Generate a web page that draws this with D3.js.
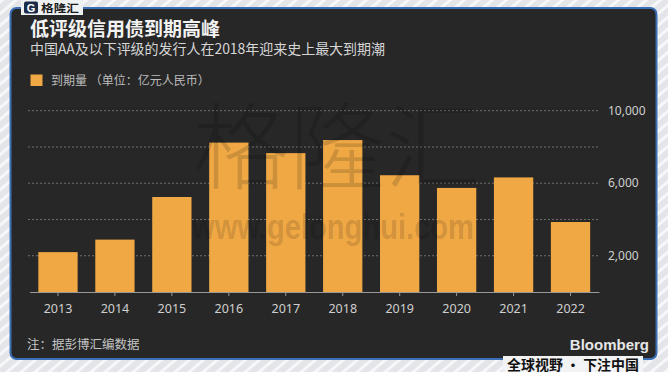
<!DOCTYPE html>
<html>
<head>
<meta charset="utf-8">
<script src="https://cdn.jsdelivr.net/npm/d3@7"></script>
<style>
  body { margin: 0; background: #fff; }
  svg { display: block; font-family: "Noto Sans", "Noto Sans CJK SC", sans-serif; }
</style>
</head>
<body>
<script>
var years = ["2013", "2014", "2015", "2016", "2017", "2018", "2019", "2020", "2021", "2022"];
var maturity = [2200, 2890, 5240, 8240, 7660, 8380, 6440, 5740, 6320, 3860];
var gridTicks = [2000, 4000, 6000, 8000, 10000];
var labelTicks = [2000, 6000, 10000];

var width = 668,
    height = 372;

var svg = d3.select("body").append("svg")
    .attr("width", width)
    .attr("height", height);

// striped backdrop outside the card
var defs = svg.append("defs");
var stripes = defs.append("pattern")
    .attr("id", "stripes")
    .attr("width", 9)
    .attr("height", 9)
    .attr("patternUnits", "userSpaceOnUse")
    .attr("patternTransform", "rotate(-40)");
stripes.append("rect").attr("width", 9).attr("height", 9).attr("fill", "#e3e5e9");
stripes.append("rect").attr("width", 9).attr("height", 3).attr("fill", "#f6f7f9");

svg.append("rect")
    .attr("width", width)
    .attr("height", height)
    .attr("fill", "url(#stripes)");

svg.append("rect")
    .attr("x", 10.5)
    .attr("y", 8)
    .attr("width", 646)
    .attr("height", 351)
    .attr("rx", 6)
    .attr("fill", "#272727")
    .attr("stroke", "#3a70b6")
    .attr("stroke-width", 2);

var x = d3.scaleBand()
    .domain(years)
    .range([29.5, 599])
    .paddingInner(0.31)
    .paddingOuter(0.155);

var y = d3.scaleLinear()
    .domain([0, 10000])
    .range([292, 110.7]);

// grid
svg.append("g")
    .selectAll("line")
    .data(gridTicks)
    .enter().append("line")
      .attr("x1", 28)
      .attr("x2", 600)
      .attr("y1", function(d) { return y(d); })
      .attr("y2", function(d) { return y(d); })
      .attr("stroke", "#707070")
      .attr("stroke-width", 1)
      .attr("stroke-dasharray", "2,2");

svg.append("g")
    .selectAll("text")
    .data(labelTicks)
    .enter().append("text")
      .attr("x", 608)
      .attr("y", function(d) { return y(d); })
      .attr("dy", "0.35em")
      .attr("fill", "#cfcfcf")
      .attr("font-size", 12)
      .text(d3.format(","));

// bars
svg.append("g")
    .selectAll("rect")
    .data(maturity)
    .enter().append("rect")
      .attr("x", function(d, i) { return x(years[i]); })
      .attr("y", function(d) { return y(d); })
      .attr("width", x.bandwidth())
      .attr("height", function(d) { return y(0) - y(d); })
      .attr("fill", "#f0a845");

// x axis
var xAxis = svg.append("g")
    .attr("transform", "translate(0," + y(0) + ")")
    .call(d3.axisBottom(x).tickSize(4).tickPadding(8).tickSizeOuter(0));
xAxis.select(".domain").attr("stroke", "#9a9a9a");
xAxis.selectAll(".tick line").attr("stroke", "#9a9a9a");
xAxis.selectAll("text")
    .attr("fill", "#cfcfcf")
    .attr("font-size", 12.5)
    .attr("font-family", "Noto Sans, sans-serif");

// watermark
var mark = svg.append("g").attr("pointer-events", "none");
mark.append("text")
    .attr("x", 337)
    .attr("y", 182)
    .attr("text-anchor", "middle")
    .attr("font-family", "Noto Sans CJK SC")
    .attr("font-weight", 300)
    .attr("font-size", 94)
    .attr("textLength", 288)
    .attr("lengthAdjust", "spacingAndGlyphs")
    .attr("fill", "#000")
    .attr("fill-opacity", 0.15)
    .text("格隆汇");
mark.append("text")
    .attr("x", 333)
    .attr("y", 239)
    .attr("text-anchor", "middle")
    .attr("font-family", "Liberation Sans")
    .attr("font-weight", "bold")
    .attr("font-size", 35)
    .attr("textLength", 282)
    .attr("lengthAdjust", "spacingAndGlyphs")
    .attr("fill", "#000")
    .attr("fill-opacity", 0.15)
    .text("www.gelonghui.com");

// titles
svg.append("text")
    .attr("x", 30)
    .attr("y", 35.5)
    .attr("fill", "#f2f2f2")
    .attr("font-family", "Noto Sans CJK SC")
    .attr("font-weight", "bold")
    .attr("font-size", 19)
    .text("低评级信用债到期高峰");

svg.append("text")
    .attr("x", 30)
    .attr("y", 54)
    .attr("fill", "#d6d6d6")
    .attr("font-family", "Noto Sans CJK SC")
    .attr("font-size", 14)
    .attr("textLength", 355)
    .attr("lengthAdjust", "spacing")
    .text("中国AA及以下评级的发行人在2018年迎来史上最大到期潮");

svg.append("rect")
    .attr("x", 30.5)
    .attr("y", 74.5)
    .attr("width", 12)
    .attr("height", 11.5)
    .attr("fill", "#f0a845");

svg.append("text")
    .attr("x", 51)
    .attr("y", 84.5)
    .attr("fill", "#bdbdbd")
    .attr("font-family", "Noto Sans CJK SC")
    .attr("font-size", 12)
    .text("到期量 （单位：亿元人民币）");

svg.append("text")
    .attr("x", 27)
    .attr("y", 349)
    .attr("fill", "#c4c4c4")
    .attr("font-family", "Noto Sans CJK SC")
    .attr("font-size", 12.5)
    .text("注：据彭博汇编数据");

svg.append("text")
    .attr("x", 649)
    .attr("y", 350)
    .attr("text-anchor", "end")
    .attr("fill", "#e6e6e6")
    .attr("font-family", "Liberation Sans")
    .attr("font-weight", "bold")
    .attr("font-size", 15)
    .text("Bloomberg");

// footer slogan over the border
svg.append("rect")
    .attr("x", 503)
    .attr("y", 356)
    .attr("width", 140)
    .attr("height", 16)
    .attr("fill", "#f2f3f5");
svg.append("text")
    .attr("x", 507)
    .attr("y", 369.5)
    .attr("textLength", 132)
    .attr("lengthAdjust", "spacingAndGlyphs")
    .attr("fill", "#111")
    .attr("font-family", "Noto Sans CJK SC")
    .attr("font-weight", "bold")
    .attr("font-size", 14)
    .text("全球视野 · 下注中国");

// logo top left
svg.append("rect")
    .attr("x", 21)
    .attr("y", 0)
    .attr("width", 62)
    .attr("height", 15)
    .attr("fill", "#eef0f2");
svg.append("rect")
    .attr("x", 24)
    .attr("y", 1.5)
    .attr("width", 14)
    .attr("height", 12)
    .attr("rx", 2)
    .attr("fill", "#1d2b4a");
svg.append("text")
    .attr("x", 31)
    .attr("y", 11.5)
    .attr("text-anchor", "middle")
    .attr("fill", "#fff")
    .attr("font-family", "Liberation Sans")
    .attr("font-weight", "bold")
    .attr("font-size", 11)
    .text("G");
svg.append("text")
    .attr("x", 41)
    .attr("y", 11.8)
    .attr("fill", "#1a1a1a")
    .attr("font-family", "Noto Sans CJK SC")
    .attr("font-weight", "bold")
    .attr("font-size", 10)
    .attr("textLength", 38)
    .attr("lengthAdjust", "spacingAndGlyphs")
    .text("格隆汇");
</script>
</body>
</html>
